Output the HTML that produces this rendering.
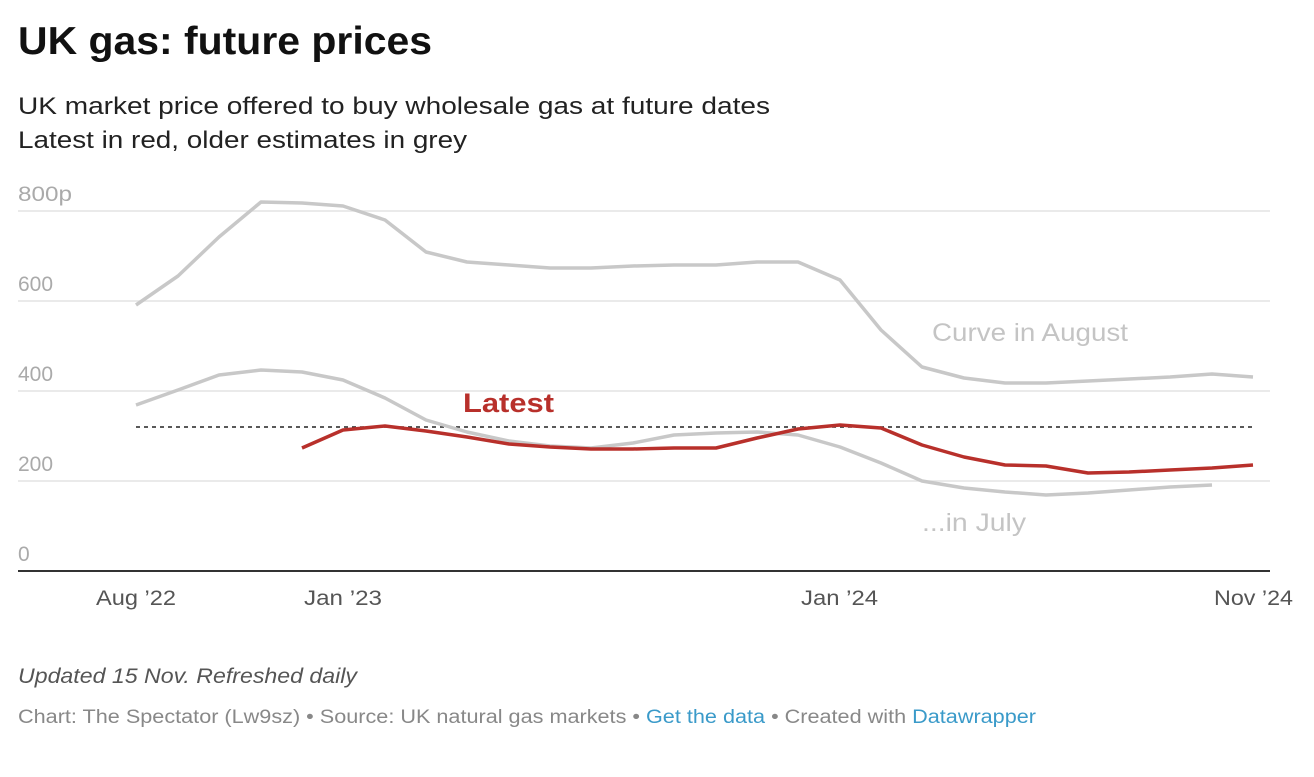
<!DOCTYPE html>
<html><head><meta charset="utf-8"><style>
body{margin:0;background:#fff;width:1314px;height:772px;overflow:hidden;font-family:"Liberation Sans",sans-serif;}
</style></head><body>
<svg width="1314" height="772" xmlns="http://www.w3.org/2000/svg" font-family="Liberation Sans, sans-serif">
<text x="18" y="54" font-size="39" font-weight="bold" fill="#111" textLength="414" lengthAdjust="spacingAndGlyphs">UK gas: future prices</text>
<text x="18" y="114" font-size="24" fill="#222" textLength="752" lengthAdjust="spacingAndGlyphs">UK market price offered to buy wholesale gas at future dates</text>
<text x="18" y="148" font-size="24" fill="#222" textLength="449" lengthAdjust="spacingAndGlyphs">Latest in red, older estimates in grey</text>
<g stroke="#e3e3e3" stroke-width="1.5">
<line x1="18" y1="211" x2="1270" y2="211"/><line x1="18" y1="301" x2="1270" y2="301"/>
<line x1="18" y1="391" x2="1270" y2="391"/><line x1="18" y1="481" x2="1270" y2="481"/>
</g>
<line x1="18" y1="571" x2="1270" y2="571" stroke="#333" stroke-width="2"/>
<g font-size="21" fill="#aaa">
<text x="18" y="201" textLength="54" lengthAdjust="spacingAndGlyphs">800p</text><text x="18" y="291">600</text><text x="18" y="381">400</text><text x="18" y="471">200</text><text x="18" y="561">0</text>
</g>
<g font-size="21" fill="#555">
<text x="96" y="605" textLength="80" lengthAdjust="spacingAndGlyphs">Aug ’22</text><text x="304" y="605" textLength="78" lengthAdjust="spacingAndGlyphs">Jan ’23</text><text x="801" y="605" textLength="77" lengthAdjust="spacingAndGlyphs">Jan ’24</text><text x="1214" y="605" textLength="79" lengthAdjust="spacingAndGlyphs">Nov ’24</text>
</g>
<line x1="136" y1="427" x2="1253" y2="427" stroke="#222" stroke-width="1.5" stroke-dasharray="4,4"/>
<g fill="none" stroke-width="3.5" stroke-linejoin="round">
<polyline stroke="#c8c8c8" points="136,305 178,276 219,237 261,202 302,203 343,206 385,220 426,252 467,262 509,265 550,268 591,268 633,266 674,265 716,265 757,262 798,262 840,280 881,330 922,367 964,378 1005,383 1046,383 1088,381 1129,379 1170,377 1212,374 1253,377"/>
<polyline stroke="#c8c8c8" points="136,405 178,390 219,375 261,370 302,372 343,380 385,398 426,420 467,432 509,441 550,446 591,448 633,443 674,435 716,433 757,432 798,435 840,447 881,463 922,481 964,488 1005,492 1046,495 1088,493 1129,490 1170,487 1212,485"/>
<polyline stroke="#b8302b" points="302,448 343,430 385,426 426,431 467,437 509,444 550,447 591,449 633,449 674,448 716,448 757,438 798,429 840,425 881,428 922,445 964,457 1005,465 1046,466 1088,473 1129,472 1170,470 1212,468 1253,465"/>
</g>
<text x="932" y="341" font-size="25" fill="#c4c4c4" textLength="196" lengthAdjust="spacingAndGlyphs">Curve in August</text>
<text x="922" y="531" font-size="25" fill="#c4c4c4" textLength="104" lengthAdjust="spacingAndGlyphs">...in July</text>
<text x="463" y="412" font-size="27" font-weight="bold" fill="#b8302b" textLength="91" lengthAdjust="spacingAndGlyphs">Latest</text>
<text x="18" y="683" font-size="21" font-style="italic" fill="#555" textLength="339" lengthAdjust="spacingAndGlyphs">Updated 15 Nov. Refreshed daily</text>
<text x="18" y="723" font-size="19" fill="#888" textLength="1018" lengthAdjust="spacingAndGlyphs">Chart: The Spectator (Lw9sz) • Source: UK natural gas markets • <tspan fill="#3a9ac9">Get the data</tspan> • Created with <tspan fill="#3a9ac9">Datawrapper</tspan></text>
</svg>
</body></html>
